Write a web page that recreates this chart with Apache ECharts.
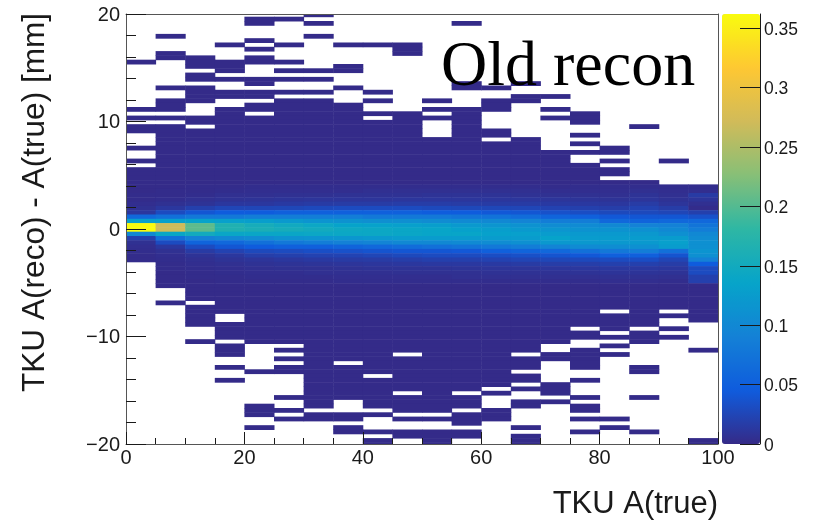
<!DOCTYPE html>
<html><head><meta charset="utf-8">
<style>html,body{margin:0;padding:0;background:#fff}#c{width:814px;height:521px}</style>
<script src="https://cdn.jsdelivr.net/npm/echarts@6/dist/echarts.min.js"></script>
</head><body><div id="c"></div>
<script>
// A(true) bin width (x) and A(reco)-A(true) binning (y); bin 0 is the top row
const xBinWidth = 5;
const yBinTop = 20.15, yBinStep = 0.4;
const tailLevel = 0.001;        // value of the flat outer region
const coreFirstBin = 40;        // first row held in the core arrays (thousandths)

// occupied rows per x column, [from,to] row index
const occ00=[[11,11],[22,22],[24,24],[26,27],[31,31],[34,34],[36,57]];
const occ05=[[5,5],[9,10],[17,17],[20,22],[24,24],[26,63],[67,67]];
const occ10=[[10,12],[14,15],[17,20],[24,25],[27,66],[68,72],[76,76]];
const occ15=[[7,7],[11,13],[15,15],[18,19],[22,69],[72,75],[77,79],[82,82],[85,85]];
const occ20=[[1,2],[6,6],[8,8],[10,11],[15,16],[18,19],[21,22],[24,76],[83,83],[91,93],[96,96]];
const occ25=[[1,1],[7,7],[11,11],[13,13],[15,15],[18,18],[20,76],[78,78],[80,80],[82,83],[89,89],[92,92],[94,94]];
const occ30=[[0,0],[2,2],[5,5],[13,13],[15,15],[18,18],[20,91],[93,94]];
const occ35=[[7,7],[12,13],[17,17],[21,80],[82,89],[93,94],[96,97]];
const occ40=[[7,7],[18,18],[20,20],[23,23],[25,83],[85,91],[93,93],[97,97],[99,100]];
const occ45=[[7,9],[23,78],[80,87],[89,92],[94,94],[97,98]];
const occ50=[[20,20],[22,22],[24,24],[29,92],[94,94],[97,100]];
const occ55=[[2,2],[16,17],[22,87],[89,91],[93,95],[97,98]];
const occ60=[[17,17],[20,22],[27,28],[30,86],[88,88],[92,94]];
const occ65=[[16,16],[19,20],[29,78],[80,82],[84,85],[87,87],[90,91],[96,96],[98,100]];
const occ70=[[19,19],[22,22],[24,24],[32,76],[79,80],[86,88],[90,90]];
const occ75=[[23,25],[28,28],[30,30],[32,32],[35,72],[74,75],[78,82],[85,85],[89,89],[91,92],[94,94],[97,97]];
const occ80=[[31,32],[34,34],[36,37],[39,68],[70,73],[75,75],[77,77],[79,79],[94,94],[96,96]];
const occ85=[[26,26],[39,72],[74,76],[82,83],[89,89],[97,97]];
const occ90=[[34,34],[40,68],[70,70],[73,73],[75,75]];
const occ95=[[40,71],[78,78],[99,100]];

// central rows (40..62) per x column, in thousandths
const core00=[1,1,2,2,4,6,12,60,130,362,362,100,20,6,4,3,2,2,1,1,1,1,1];
const core05=[1,2,2,3,6,12,30,70,130,270,270,140,70,30,12,6,4,3,2,2,1,1,1];
const core10=[2,2,3,5,8,20,40,80,135,205,205,150,90,55,30,15,8,5,4,3,2,2,1];
const core15=[2,3,5,7,12,25,45,80,130,165,165,140,100,60,40,22,12,8,5,4,3,2,2];
const core20=[3,4,5,8,12,25,45,85,128,155,160,140,105,70,45,28,18,10,7,5,4,3,2];
const core25=[3,4,6,9,14,26,50,85,122,148,155,140,112,80,50,30,20,12,8,6,4,3,2];
const core30=[3,4,6,10,15,28,50,85,115,142,150,142,115,85,50,33,22,14,9,6,5,3,2];
const core35=[3,4,7,10,16,30,50,85,112,135,145,142,118,90,55,35,23,15,10,7,5,4,3];
const core40=[3,5,7,10,16,30,50,80,108,133,143,143,122,95,60,38,25,16,11,8,5,4,3];
const core45=[3,5,7,11,17,30,50,80,108,130,140,140,125,100,65,40,28,18,12,8,6,4,3];
const core50=[3,5,8,11,17,28,47,80,105,128,138,138,125,100,70,40,30,20,13,8,6,4,3];
const core55=[3,5,8,11,16,27,45,75,102,122,132,138,125,102,75,42,30,20,13,9,6,5,3];
const core60=[3,5,8,11,15,26,42,72,100,116,128,132,126,105,80,50,32,22,14,10,7,5,3];
const core65=[3,5,7,11,15,25,40,65,95,112,122,130,126,110,85,55,34,24,15,10,7,5,3];
const core70=[2,4,6,10,14,22,35,55,85,105,116,126,135,120,95,60,38,26,17,11,7,5,3];
const core75=[3,4,6,9,13,20,32,50,85,103,113,122,126,120,103,70,42,28,18,12,8,5,3];
const core80=[3,4,5,8,12,18,28,42,60,100,113,122,126,120,106,80,50,30,20,13,9,6,4];
const core85=[3,5,8,10,16,22,28,40,55,92,110,120,126,122,110,85,50,32,20,13,9,6,4];
const core90=[3,4,5,7,10,17,25,40,60,90,100,110,126,130,126,70,38,24,17,12,8,5,3];
const core95=[3,4,15,10,5,2,20,35,60,75,85,100,105,110,110,115,110,90,45,30,30,20,20];

// colour bar
const zMax = 0.362;
const zTicks = [0,0.05,0.1,0.15,0.2,0.25,0.3,0.35];
const bird = ['#352a87','#0f5cdd','#1481d6','#06a4ca','#2eb7a4','#87bf77','#d1bb59','#fec832','#f9fb0e'];

const occs=[occ00,occ05,occ10,occ15,occ20,occ25,occ30,occ35,occ40,occ45,occ50,occ55,occ60,occ65,occ70,occ75,occ80,occ85,occ90,occ95];
const cores=[core00,core05,core10,core15,core20,core25,core30,core35,core40,core45,core50,core55,core60,core65,core70,core75,core80,core85,core90,core95];

const cells=[];
occs.forEach((spans,c)=>{
  spans.forEach(([a,b])=>{
    for(let n=a;n<=b;n++){
      const k=n-coreFirstBin;
      const v=(k>=0&&k<cores[c].length)?cores[c][k]/1000:tailLevel;
      cells.push([c*xBinWidth,(c+1)*xBinWidth,yBinTop-n*yBinStep,yBinTop-(n+1)*yBinStep,v]);
    }
  });
});

const font='"Liberation Sans"';
const ink='#1a1a1a';
const frame='#555';
const noAxisBits={axisLabel:{show:false},axisTick:{show:false},splitLine:{show:false}};
const chart=echarts.init(document.getElementById('c'),null,{renderer:'canvas'});
chart.setOption({
  animation:false,
  backgroundColor:'#fff',
  grid:[
    {left:126,top:14,width:592,height:430},
    {left:722,top:14,width:38,height:430}
  ],
  xAxis:[
    {type:'value',gridIndex:0,min:0,max:100,interval:20,z:10,position:'bottom',
     axisLine:{show:true,onZero:false,lineStyle:{color:frame,width:1}},
     axisTick:{show:true,inside:true,length:12,lineStyle:{color:ink,width:1}},
     minorTick:{show:true,splitNumber:4,length:6,lineStyle:{color:ink,width:1}},
     splitLine:{show:false},minorSplitLine:{show:false},
     axisLabel:{color:ink,fontFamily:font,fontSize:20,margin:4,hideOverlap:false,showMinLabel:true,showMaxLabel:true}},
    Object.assign({type:'value',gridIndex:0,min:0,max:100,z:10,position:'top',
     axisLine:{show:true,onZero:false,lineStyle:{color:frame,width:1}}},noAxisBits),
    {type:'value',gridIndex:1,min:0,max:1,show:false}
  ],
  yAxis:[
    {type:'value',gridIndex:0,min:-20,max:20,interval:10,z:10,position:'left',
     axisLine:{show:true,onZero:false,lineStyle:{color:frame,width:1}},
     axisTick:{show:true,inside:true,length:20,lineStyle:{color:ink,width:1}},
     minorTick:{show:true,splitNumber:5,length:10,lineStyle:{color:ink,width:1}},
     splitLine:{show:false},minorSplitLine:{show:false},
     axisLabel:{color:ink,fontFamily:font,fontSize:20,margin:6,hideOverlap:false,showMinLabel:true,showMaxLabel:true,
       formatter:v=>'{a|'+String(v).replace('-','\u2212')+'}',
       rich:{a:{color:ink,fontFamily:font,fontSize:20,padding:[2,0,0,0]}}}},
    Object.assign({type:'value',gridIndex:0,min:-20,max:20,z:10,position:'right',
     axisLine:{show:true,onZero:false,lineStyle:{color:frame,width:1}}},noAxisBits),
    {type:'value',gridIndex:1,min:0,max:zMax,z:10,position:'right',
     axisLine:{show:true,onZero:false,lineStyle:{color:ink,width:1}},
     axisTick:{show:true,inside:true,length:20,customValues:zTicks,lineStyle:{color:ink,width:1}},
     splitLine:{show:false},
     axisLabel:{show:true,color:ink,fontFamily:font,fontSize:17.5,margin:4,customValues:zTicks,hideOverlap:false,
       formatter:v=>'{a|'+v+'}',
       rich:{a:{color:ink,fontFamily:font,fontSize:17.5,padding:[4,0,0,0]}}}}
  ],
  visualMap:{type:'continuous',seriesIndex:0,dimension:4,min:0,max:zMax,left:722,top:14,
    itemWidth:38,itemHeight:430,padding:0,calculable:false,realtime:false,text:null,showLabel:false,
    inRange:{color:bird},hoverLink:false},
  series:[{
    type:'custom',coordinateSystem:'cartesian2d',xAxisIndex:0,yAxisIndex:0,clip:true,
    encode:{x:[0,1],y:[2,3]},
    data:cells,
    renderItem:(p,api)=>{
      const a=api.coord([api.value(0),api.value(2)]);
      const b=api.coord([api.value(1),api.value(3)]);
      return {type:'rect',shape:{x:a[0],y:a[1],width:b[0]-a[0]+0.5,height:b[1]-a[1]+0.5},
        style:{fill:api.visual('color')}};
    }
  }],
  graphic:[
    {type:'text',z:20,left:441,top:36,style:{text:'Old recon',fontFamily:'"Liberation Serif"',fontSize:64,fill:'#000'}},
    {type:'text',z:20,right:96,top:489,style:{text:'TKU A(true)',fontFamily:font,fontSize:31,fill:ink}},
    {type:'text',z:20,x:51,y:392,rotation:Math.PI/2,style:{text:'TKU A(reco) - A(true) [mm]',fontFamily:font,fontSize:31.6,fill:ink,align:'left',verticalAlign:'bottom'}}
  ]
});
</script></body></html>
